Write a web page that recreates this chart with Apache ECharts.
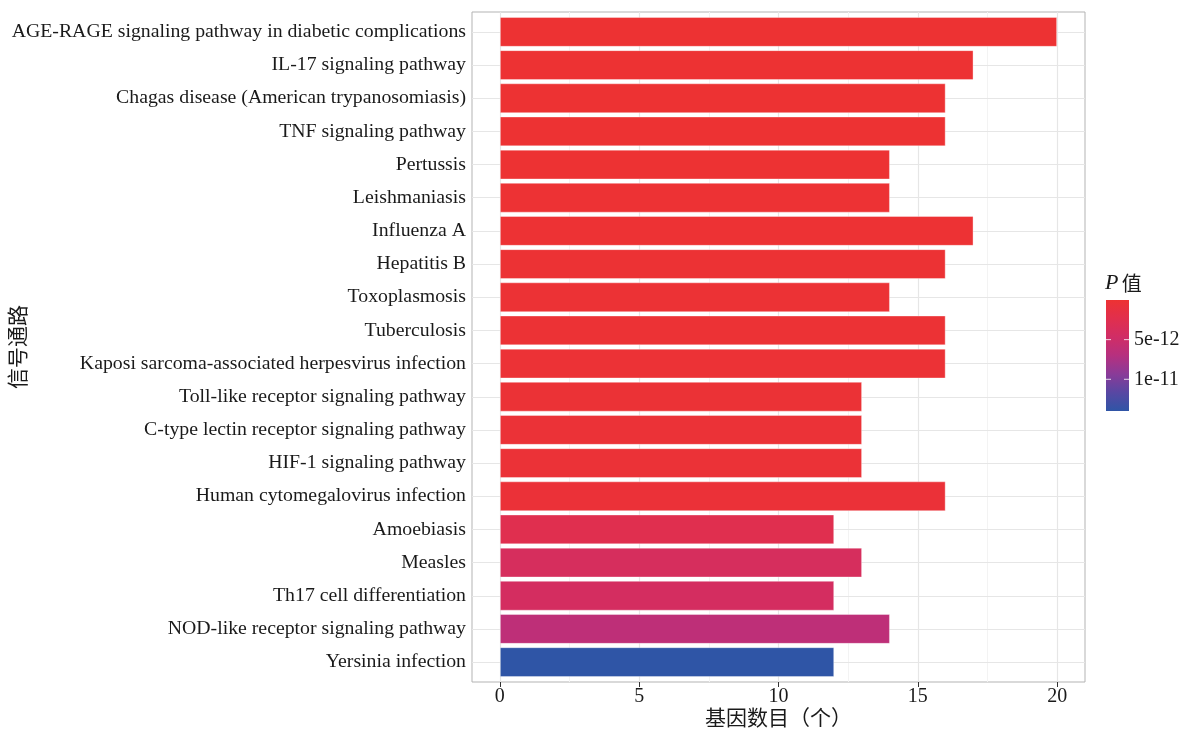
<!DOCTYPE html>
<html>
<head>
<meta charset="utf-8">
<script src="https://cdn.jsdelivr.net/npm/echarts@6/dist/echarts.min.js"></script>
<style>
  html, body { margin: 0; padding: 0; background: #fff; }
  #chart { width: 1189px; height: 731px; }
</style>
</head>
<body>
<div id="chart"></div>
<script>
// KEGG pathway enrichment: gene counts per pathway, coloured by P value
const pathways = [
  'AGE-RAGE signaling pathway in diabetic complications',
  'IL-17 signaling pathway',
  'Chagas disease (American trypanosomiasis)',
  'TNF signaling pathway',
  'Pertussis',
  'Leishmaniasis',
  'Influenza A',
  'Hepatitis B',
  'Toxoplasmosis',
  'Tuberculosis',
  'Kaposi sarcoma-associated herpesvirus infection',
  'Toll-like receptor signaling pathway',
  'C-type lectin receptor signaling pathway',
  'HIF-1 signaling pathway',
  'Human cytomegalovirus infection',
  'Amoebiasis',
  'Measles',
  'Th17 cell differentiation',
  'NOD-like receptor signaling pathway',
  'Yersinia infection'
];
const geneCounts = [20, 17, 16, 16, 14, 14, 17, 16, 14, 16, 16, 13, 13, 13, 16, 12, 13, 12, 14, 12];
const pValues = [
  3.2e-20, 1.5e-16, 4.0e-15, 2.1e-15, 3.5e-14, 5.0e-14, 8.0e-14, 1.2e-13, 1.6e-13, 2.0e-13,
  2.6e-13, 3.0e-13, 3.4e-13, 3.8e-13, 4.5e-13, 2.5e-12, 3.8e-12, 4.1e-12, 6.3e-12, 1.4e-11
];
const xMajorTicks = [0, 5, 10, 15, 20];
const xMinorTicks = [2.5, 7.5, 12.5, 17.5];
const legendTicks = [5e-12, 1e-11];
const legendTickLabels = ['5e-12', '1e-11'];

// colour ramp from low P (red) to high P (blue)
const rampColors = ['#ED3233', '#E12F4D', '#D02D66', '#B6307F', '#8A3B98', '#5847A3', '#2F55A6'];

const serif = '"Liberation Serif", "Times New Roman", "Noto Sans CJK SC", serif';
const cjk = '"Noto Sans CJK SC", sans-serif';

const pMin = 0;
const pMax = Math.max.apply(null, pValues);

// panel geometry
const panel = { left: 472, top: 12, width: 613, height: 670 };
const n = pathways.length;
const band = panel.height / (n - 1 + 1.2);       // discrete expansion of 0.6 on each side
const barGrid = { left: panel.left, width: panel.width, top: panel.top + 0.1 * band, height: band * n };

const barData = pathways.map((p, i) => [geneCounts[i], p, pValues[i]]);

// colour bar legend
const cb = { x: 1106, y: 300, w: 23, h: 111 };
const legendGraphics = [
  {
    type: 'text', left: 1105, top: 272,
    style: {
      text: '{p|P} {z|值}',
      rich: {
        p: { fontFamily: serif, fontStyle: 'italic', fontSize: 22, fill: '#1a1a1a' },
        z: { fontFamily: cjk, fontSize: 20, fill: '#1a1a1a' }
      }
    }
  },
  {
    type: 'rect',
    shape: { x: cb.x, y: cb.y, width: cb.w, height: cb.h },
    style: {
      fill: new echarts.graphic.LinearGradient(0, 0, 0, 1,
        rampColors.map((c, i) => ({ offset: i / (rampColors.length - 1), color: c })))
    }
  }
];
legendTicks.forEach((v, i) => {
  const y = cb.y + (v - pMin) / (pMax - pMin) * cb.h;
  legendGraphics.push(
    { type: 'line', shape: { x1: cb.x, y1: y, x2: cb.x + 5, y2: y }, style: { stroke: 'rgba(255,255,255,0.8)', lineWidth: 1 } },
    { type: 'line', shape: { x1: cb.x + cb.w - 5, y1: y, x2: cb.x + cb.w, y2: y }, style: { stroke: 'rgba(255,255,255,0.8)', lineWidth: 1 } },
    { type: 'text', x: cb.x + cb.w + 5, y: y, style: { text: legendTickLabels[i], fontFamily: serif, fontSize: 20, fill: '#1a1a1a', verticalAlign: 'middle', align: 'left' } }
  );
});

const chart = echarts.init(document.getElementById('chart'), null, { renderer: 'canvas' });

chart.setOption({
  animation: false,
  backgroundColor: '#fff',
  grid: [
    { left: panel.left, top: panel.top, width: panel.width, height: panel.height,
      outerBoundsMode: 'none', containLabel: false,
      show: true, borderColor: '#B3B3B3', borderWidth: 1, backgroundColor: '#fff' },
    { left: barGrid.left, top: barGrid.top, width: barGrid.width, height: barGrid.height,
      outerBoundsMode: 'none', containLabel: false }
  ],
  xAxis: [
    {
      gridIndex: 0, type: 'value', min: -1, max: 21,
      axisLine: { show: false },
      splitLine: { show: false },
      axisTick: { show: true, length: 5, customValues: xMajorTicks, lineStyle: { color: '#333' } },
      axisLabel: { customValues: xMajorTicks, margin: 5, fontFamily: serif, fontSize: 20, color: '#1a1a1a' },
      name: '基因数目（个）', nameLocation: 'middle', nameGap: 25, nameMoveOverlap: false,
      nameTextStyle: { fontFamily: cjk, fontSize: 21, color: '#1a1a1a' }
    },
    {
      gridIndex: 1, type: 'value', min: -1, max: 21, show: false
    }
  ],
  yAxis: [
    { gridIndex: 0, type: 'value', min: 0, max: 1, show: false },
    {
      gridIndex: 1, type: 'category', data: pathways, inverse: true,
      axisLine: { show: false },
      axisTick: { show: true, alignWithLabel: true, length: 5, lineStyle: { color: '#333' } },
      axisLabel: { margin: 6, fontFamily: serif, fontSize: 19.8, color: '#1a1a1a' },
      splitLine: { show: false },
      name: '信号通路', nameLocation: 'middle', nameRotate: 90, nameGap: 444, nameMoveOverlap: false,
      nameTextStyle: { fontFamily: cjk, fontSize: 21, color: '#1a1a1a' }
    }
  ],
  visualMap: {
    type: 'continuous', show: false, seriesIndex: 2, dimension: 2,
    min: pMin, max: pMax, inRange: { color: rampColors }
  },
  series: [
    {
      // vertical grid lines of the panel
      type: 'line', xAxisIndex: 0, yAxisIndex: 0, data: [], z: 1, silent: true,
      markLine: {
        z: 1, silent: true, symbol: 'none', label: { show: false }, animation: false,
        data: xMinorTicks.map(v => ({ xAxis: v, lineStyle: { color: '#F3F3F3', width: 1, type: 'solid' } }))
          .concat(xMajorTicks.map(v => ({ xAxis: v, lineStyle: { color: '#E6E6E6', width: 1.2, type: 'solid' } })))
      }
    },
    {
      // horizontal grid lines at each pathway
      type: 'line', xAxisIndex: 1, yAxisIndex: 1, data: [], z: 1, silent: true,
      markLine: {
        z: 1, silent: true, symbol: 'none', label: { show: false }, animation: false,
        lineStyle: { color: '#E6E6E6', width: 1.2, type: 'solid' },
        data: pathways.map(p => ({ yAxis: p }))
      }
    },
    {
      type: 'bar', xAxisIndex: 1, yAxisIndex: 1, z: 3,
      data: barData,
      encode: { x: 0, y: 1 },
      barWidth: '90%',
      itemStyle: { borderColor: 'rgba(255,255,255,0.35)', borderWidth: 1 }
    }
  ],
  graphic: legendGraphics
});
</script>
</body>
</html>
